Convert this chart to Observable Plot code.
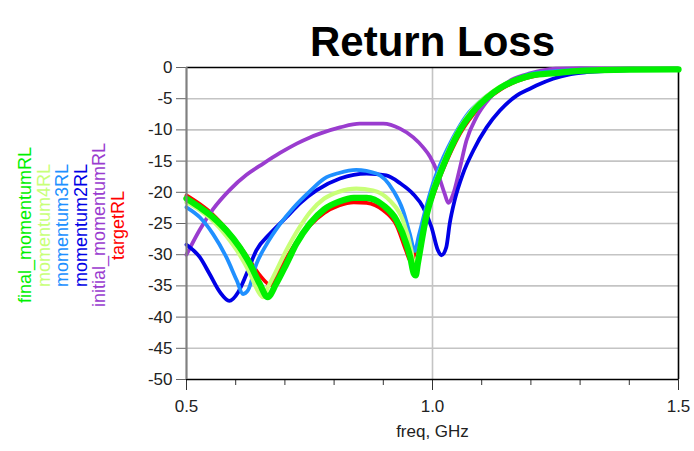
<!DOCTYPE html>
<html>
<head>
<meta charset="utf-8">
<script src="https://cdn.jsdelivr.net/npm/d3@7"></script>
<script src="https://cdn.jsdelivr.net/npm/@observablehq/plot@0.6"></script>
<style>
  body { margin: 0; background: #fff; }
  #wrap { position: relative; width: 694px; height: 451px; font-family: "Liberation Sans", Arial, sans-serif; }
  #legend { position: absolute; left: 16px; top: 125px; height: 200px; display: flex; flex-direction: row; }
  #legend span { writing-mode: vertical-rl; transform: rotate(180deg); text-align: center; font-size: 18px; line-height: 18.6px; width: 18.6px; height: 200px; white-space: nowrap; }
</style>
</head>
<body>
<div id="wrap"><div id="legend"></div></div>
<script>
// ---- data ----
const seriesNames = ["final_momentumRL", "momentum4RL", "momentum3RL", "momentum2RL", "initial_momentumRL", "targetRL"];
const seriesColors = ["#00f000", "#c8ff78", "#2090ff", "#0000e6", "#9a3ccf", "#ff0000"];

const freqTarget = [0.50,0.527,0.554,0.581,0.608,0.629,0.649,0.672,0.69,0.703,0.723,0.751,0.78,0.81,0.84,0.866,0.90,0.927,0.947,0.955,0.960,0.968,0.98,0.99,1.0,1.018,1.035,1.056,1.083,1.11,1.137,1.171,1.2,1.25,1.3,1.4,1.5];
const targetRL = [-20.5,-21.9,-23.6,-25.9,-28.6,-31.0,-33.3,-34.9,-32.5,-30.6,-28.0,-25.3,-23.3,-22.1,-21.6,-21.7,-22.9,-25.3,-29.5,-31.0,-30.6,-29.0,-25.5,-23.0,-20.8,-17.0,-13.9,-10.6,-7.5,-5.2,-3.6,-2.2,-1.5,-0.9,-0.55,-0.35,-0.3];

const freqInitial = [0.50,0.527,0.554,0.588,0.622,0.656,0.69,0.724,0.751,0.771,0.812,0.852,0.90,0.934,0.961,0.981,0.995,1.011,1.025,1.032,1.042,1.056,1.069,1.089,1.11,1.131,1.16,1.2,1.25,1.3,1.4,1.5];
const initial_momentumRL = [-30.0,-26.0,-22.7,-19.6,-17.2,-15.4,-13.7,-12.2,-11.2,-10.6,-9.6,-9.0,-9.0,-9.8,-11.2,-12.8,-14.3,-17.0,-20.3,-21.7,-20.3,-16.0,-11.7,-8.0,-5.5,-3.7,-2.0,-0.9,-0.2,-0.1,-0.15,-0.2];

const freqM2 = [0.50,0.527,0.547,0.568,0.587,0.605,0.622,0.642,0.669,0.703,0.73,0.764,0.812,0.866,0.906,0.935,0.961,0.981,0.998,1.011,1.018,1.028,1.035,1.045,1.062,1.083,1.11,1.137,1.171,1.198,1.211,1.245,1.279,1.313,1.4,1.5];
const momentum2RL = [-28.4,-30.4,-33.1,-36.0,-37.4,-36.0,-33.1,-29.3,-26.7,-24.0,-21.8,-19.7,-17.8,-17.0,-17.3,-18.6,-20.3,-22.4,-25.6,-29.3,-30.1,-28.8,-25.0,-21.3,-17.0,-13.3,-9.6,-6.9,-4.5,-3.4,-2.9,-1.8,-1.1,-0.75,-0.4,-0.3];

const freqM3 = [0.50,0.527,0.554,0.581,0.602,0.615,0.625,0.642,0.663,0.69,0.717,0.751,0.78,0.81,0.845,0.886,0.92,0.94,0.954,0.964,0.972,0.987,1.001,1.022,1.042,1.069,1.103,1.137,1.171,1.2,1.25,1.3,1.4,1.5];
const momentum3RL = [-22.4,-24.0,-26.7,-30.4,-34.1,-36.3,-35.7,-31.5,-28.3,-25.1,-22.5,-19.8,-17.8,-16.9,-16.4,-17.0,-19.7,-22.9,-26.7,-29.4,-27.0,-22.4,-18.6,-14.4,-11.2,-7.7,-5.0,-3.2,-1.8,-1.0,-0.6,-0.35,-0.25,-0.25];

const freqM4 = [0.50,0.527,0.554,0.581,0.608,0.629,0.645,0.656,0.665,0.676,0.703,0.73,0.751,0.78,0.81,0.845,0.879,0.913,0.94,0.957,0.963,0.968,0.98,0.99,1.0,1.018,1.035,1.056,1.083,1.11,1.137,1.171,1.2,1.25,1.3,1.4,1.5];
const momentum4RL = [-21.6,-22.9,-24.6,-27.0,-30.0,-33.0,-35.8,-36.8,-35.3,-33.6,-29.3,-25.6,-23.2,-21.0,-19.9,-19.4,-19.7,-21.3,-24.5,-29.3,-32.0,-31.0,-26.5,-23.0,-19.8,-16.0,-12.8,-9.6,-6.6,-4.6,-3.1,-1.9,-1.2,-0.8,-0.5,-0.35,-0.3];

const freqFinal = [0.50,0.527,0.554,0.581,0.608,0.629,0.649,0.665,0.682,0.703,0.723,0.751,0.78,0.81,0.84,0.866,0.90,0.927,0.947,0.955,0.962,0.966,0.970,0.987,1.0,1.018,1.035,1.056,1.083,1.11,1.137,1.171,1.20,1.25,1.30,1.40,1.50];
const final_momentumRL = [-21.0,-22.4,-24.0,-26.1,-28.8,-31.5,-34.7,-36.8,-34.7,-31.5,-28.3,-25.0,-22.7,-21.5,-20.9,-20.9,-22.1,-24.5,-28.3,-30.5,-33.0,-33.3,-31.5,-24.0,-20.3,-16.5,-13.3,-10.0,-7.0,-4.9,-3.3,-2.0,-1.3,-0.9,-0.55,-0.35,-0.3];

const yTicks = [0,-5,-10,-15,-20,-25,-30,-35,-40,-45,-50];
const xTicks = [0.5,1.0,1.5];
const xMinorTicks = [0.6,0.7,0.8,0.9,1.1,1.2,1.3,1.4];
const titleText = "Return Loss";
const xLabel = "freq, GHz";

// ---- build ----
const toRows = (fs, vs) => fs.map((f, i) => ({f, v: vs[i]}));
const series = [
  {name: "targetRL", rows: toRows(freqTarget, targetRL), w: 3.8},
  {name: "initial_momentumRL", rows: toRows(freqInitial, initial_momentumRL), w: 3.8},
  {name: "momentum2RL", rows: toRows(freqM2, momentum2RL), w: 3.8},
  {name: "momentum3RL", rows: toRows(freqM3, momentum3RL), w: 3.8},
  {name: "momentum4RL", rows: toRows(freqM4, momentum4RL), w: 4.2},
  {name: "final_momentumRL", rows: toRows(freqFinal, final_momentumRL), w: 6.3}
];
const colorOf = n => seriesColors[seriesNames.indexOf(n)];

const chart = Plot.plot({
  width: 694,
  height: 451,
  marginLeft: 186,
  marginRight: 16,
  marginTop: 67,
  marginBottom: 72,
  style: {fontFamily: "'Liberation Sans', Arial, sans-serif", fontSize: "17px", background: "#fff", color: "#222"},
  x: {domain: [0.5, 1.5]},
  y: {domain: [-50, 0]},
  marks: [
    Plot.gridY(yTicks.filter(d => d !== 0 && d !== -50), {stroke: "#c4c4c4", strokeOpacity: 1, strokeWidth: 1.6}),
    Plot.gridX([1.0], {stroke: "#c4c4c4", strokeOpacity: 1, strokeWidth: 1.6}),
    Plot.axisY(yTicks, {tickSize: 10, tickPadding: 4, stroke: "#666", tickFormat: d => String(d), fontSize: 17, label: null}),
    Plot.axisX(xTicks, {tickSize: 11, tickPadding: 9, stroke: "#333", tickFormat: d3.format(".1f"), fontSize: 17, label: null}),
    Plot.axisX(xMinorTicks, {tickSize: 6, stroke: "#333", tickFormat: () => "", label: null}),
    Plot.ruleY([0], {stroke: "#000", strokeWidth: 1.6}),
    Plot.ruleY([-50], {stroke: "#000", strokeWidth: 1.6}),
    Plot.ruleX([1.5], {stroke: "#000", strokeWidth: 1.6}),
    ...series.map(s => Plot.line(s.rows, {x: "f", y: "v", stroke: colorOf(s.name), strokeWidth: s.w, curve: "monotone-x", strokeLinejoin: "round", strokeLinecap: "round"})),
    Plot.ruleX([0.5], {stroke: "#808080", strokeWidth: 2.2}),
    Plot.text([xLabel], {frameAnchor: "bottom", dy: 57.6, fontSize: 17, fill: "#222"}),
    Plot.text([titleText], {frameAnchor: "top", dy: -41, fontSize: 42, fontWeight: "bold", fill: "#000"})
  ]
});
document.getElementById("wrap").appendChild(chart);

const legend = document.getElementById("legend");
seriesNames.forEach((n, i) => {
  const s = document.createElement("span");
  s.textContent = n;
  s.style.color = seriesColors[i];
  legend.appendChild(s);
});
</script>
</body>
</html>
